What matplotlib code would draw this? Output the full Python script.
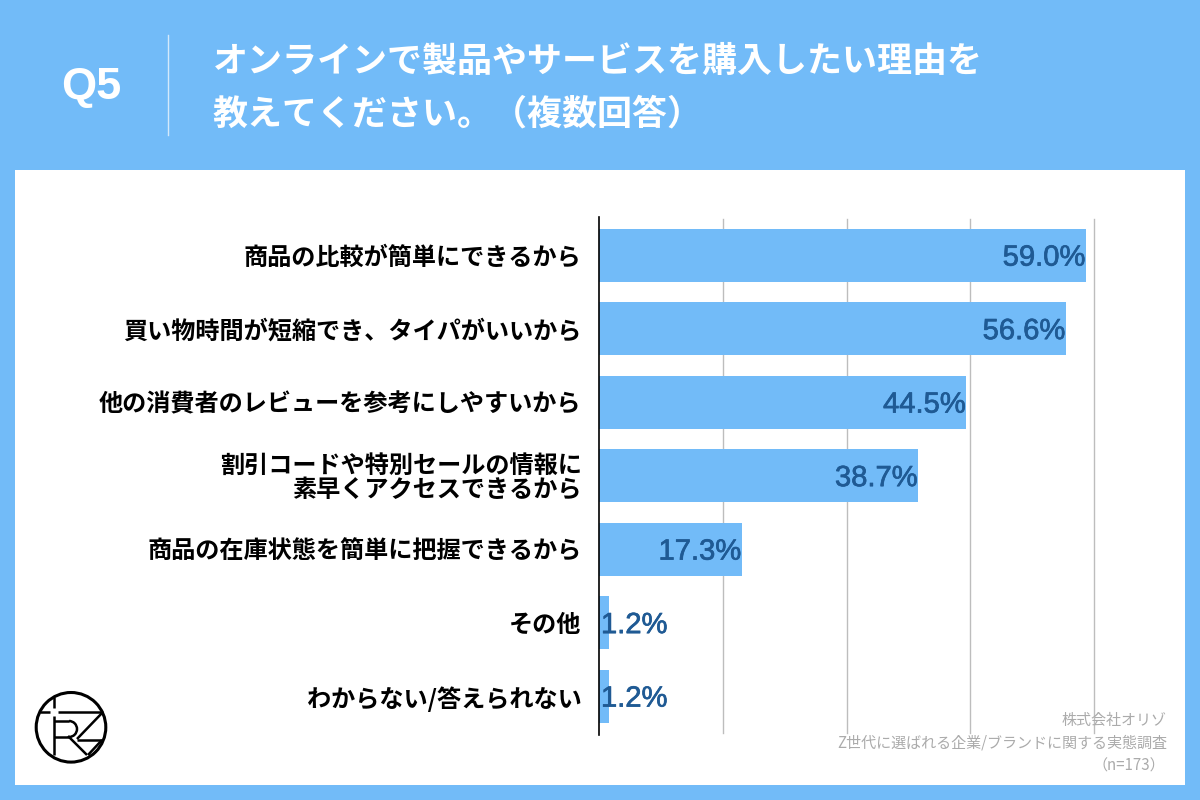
import matplotlib
matplotlib.use("Agg")
import matplotlib.pyplot as plt
import matplotlib.patheffects as pe
from matplotlib.patches import Rectangle, Circle, Arc

JP = ['Noto Sans CJK JP', 'DejaVu Sans']
plt.rcParams['font.family'] = JP

categories = ["商品の比較が簡単にできるから", "買い物時間が短縮でき、タイパがいいから",
              "他の消費者のレビューを参考にしやすいから",
              "割引コードや特別セールの情報に\n素早くアクセスできるから",
              "商品の在庫状態を簡単に把握できるから", "その他", "わからない/答えられない"]
values = [59.0, 56.6, 44.5, 38.7, 17.3, 1.2, 1.2]
ticks = [15, 30, 45, 60]
title_lines = ["オンラインで製品やサービスを購入したい理由を", "教えてください。（複数回答）"]
footer = ["株式会社オリゾ", "Z世代に選ばれる企業/ブランドに関する実態調査", "（n=173）"]

BLUE = '#72bbf8'
fig = plt.figure(figsize=(12, 8), dpi=100, facecolor=BLUE)

bg = fig.add_axes([0, 0, 1, 1], zorder=0)
bg.set_xlim(0, 1200); bg.set_ylim(800, 0); bg.axis('off')
bg.add_patch(Rectangle((15, 170), 1170, 615, fc='white', ec='none'))
bg.plot([167.5, 167.5], [35, 135], color='#d4e9fb', lw=1.0)
bg.text(91, 87, "Q5", color='white', fontsize=32.5, fontweight='bold',
        family=['Liberation Sans'], ha='center', va='center')
bg.text(213, 61, title_lines[0], color='white', fontsize=25.2, fontweight='bold', va='center')
bg.text(213, 114, title_lines[1], color='white', fontsize=25.2, fontweight='bold', va='center')

# main chart
L, R, T, B = 599.0, 1094, 218.5, 733
ax = fig.add_axes([L/1200, 1-B/800, (R-L)/1200, (B-T)/800], zorder=1)
ax.patch.set_alpha(0)
y = list(range(len(values)))
ax.barh(y, values, height=0.72, color=BLUE, zorder=2)
ax.set_xlim(0, 60)
ax.set_ylim(len(values)-0.5, -0.5)
ax.set_xticks(ticks)
ax.tick_params(axis='x', length=0, labelbottom=False)
ax.tick_params(axis='y', length=0, pad=12.5)
ax.set_yticks(y)
ax.set_yticklabels(categories, fontsize=17.4, fontweight='bold', color='black',
                   linespacing=0.95, ha='right')
ax.grid(axis='x', color='#bdbdbd', lw=1, zorder=1, clip_on=False)
ax.set_axisbelow(True)
for s in ['top', 'right', 'bottom']:
    ax.spines[s].set_visible(False)
ax.spines['left'].set_color('black')
ax.spines['left'].set_linewidth(1.2)
ax.spines['left'].set_bounds(len(values)-0.47, -0.52)
for i, v in enumerate(values):
    ax.annotate(f"{v:.1f}%", (v, i), xytext=(-0.5 if v > 5 else 42, -1.7), textcoords='offset points',
                ha='right', va='center', fontsize=21, color='#1f5a94',
                family=['Liberation Sans'],
                path_effects=[pe.withStroke(linewidth=0.5, foreground='#1f5a94')],
                annotation_clip=False, zorder=3)

# overlay: logo and footer
ov = fig.add_axes([0, 0, 1, 1], zorder=2)
ov.set_xlim(0, 1200); ov.set_ylim(800, 0); ov.axis('off')
ov.patch.set_alpha(0)
ov.add_patch(Circle((71, 727.3), 34.8, fc='none', ec='black', lw=2.2))
logo_w = 1.8
for xs, ys in [([54, 54], [697, 755]),
               ([40, 103], [712, 712]),
               ([103, 77], [712, 739]),
               ([77, 102], [740, 740]),
               ([102, 88], [740, 755]),
               ([68, 87], [736, 755]),
               ([54, 69], [721, 721]),
               ([54, 69], [737, 737])]:
    ov.plot(xs, ys, color='black', lw=logo_w, solid_capstyle='butt')
ov.add_patch(Arc((69, 729), 16, 16, theta1=-90, theta2=90, ec='black', lw=logo_w))
ov.plot([50, 58], [712, 712], color='white', lw=2.5, solid_capstyle='butt')
ov.plot([54, 54], [708, 716], color='white', lw=2.5, solid_capstyle='butt')

GREY = '#ababab'
ov.text(1167, 720, footer[0], ha='right', va='center', fontsize=10.85, color=GREY)
ov.text(1167, 743.5, footer[1], ha='right', va='center', fontsize=10.85, color=GREY)
ov.text(1165, 766, footer[2], ha='right', va='center', fontsize=10.85, color=GREY)

fig.savefig('out.png', dpi=100, facecolor=BLUE)
